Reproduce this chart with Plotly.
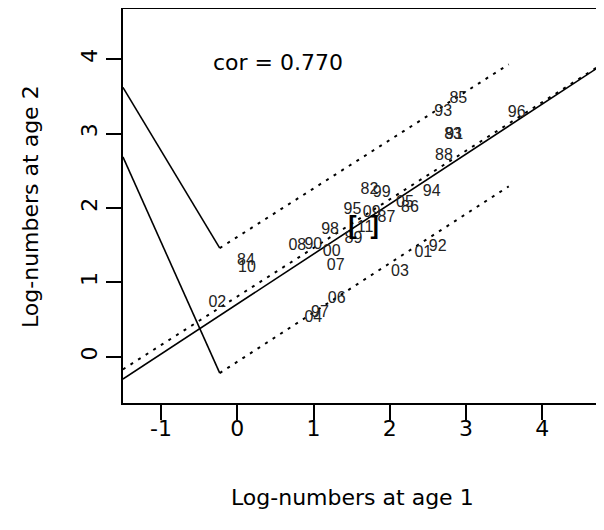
import plotly.graph_objects as go

# ---- data ----
year_labels = ["82", "83", "84", "85", "86", "87", "88", "89", "90", "91",
               "92", "93", "94", "95", "96", "97", "98", "99", "00", "01",
               "02", "03", "04", "05", "06", "07", "08", "09", "10", "11"]
age1 = [1.734, 2.830, 0.114, 2.898, 2.265, 1.956, 2.710, 1.524, 0.997, 2.845,
        2.628, 2.701, 2.549, 1.511, 3.664, 1.084, 1.216, 1.894, 1.238, 2.439,
        -0.262, 2.133, 0.997, 2.199, 1.303, 1.290, 0.787, 1.762, 0.127, 1.675]
age2 = [2.241, 2.985, 1.293, 3.460, 1.995, 1.871, 2.702, 1.578, 1.501, 2.975,
        1.470, 3.293, 2.218, 1.978, 3.272, 0.591, 1.703, 2.196, 1.411, 1.394,
        0.718, 1.142, 0.524, 2.062, 0.772, 1.219, 1.488, 1.931, 1.188, 1.730]

# regression line and prediction lines (end points)
fit_x = [-1.50, 4.81]
fit_y = [-0.30, 3.94]
center_x = [-1.50, 4.81]
center_y = [-0.17, 3.95]
upper_x = [-0.23, 3.56]
upper_y = [1.46, 3.93]
lower_x = [-0.23, 3.56]
lower_y = [-0.22, 2.29]
upper_v_x = [-1.50, -0.23]
upper_v_y = [3.62, 1.46]
lower_v_x = [-1.50, -0.23]
lower_v_y = [2.685, -0.22]

highlight_x = [1.655]
highlight_y = [1.735]

cor_text = "cor = 0.770"
x_ticks = [-1, 0, 1, 2, 3, 4]
y_ticks = [0, 1, 2, 3, 4]
x_title = "Log-numbers at age 1"
y_title = "Log-numbers at age 2"

BIG = "DejaVu Sans, Arial, sans-serif"
SMALL = "Liberation Sans, Arial, sans-serif"

# page offset of the figure (body margin) and plot box in page pixels
OFF = 8
BOX_L, BOX_T, BOX_B, BOX_R = 123, 8, 403, 604
W, H = 604 - OFF, 530 - OFF


def px_x(p):
    return (p - BOX_L) / (BOX_R - BOX_L)


def px_y(p):
    return (BOX_B - p) / (BOX_B - BOX_T)


fig = go.Figure()

line_k = dict(color="black", width=1.6)
dot_k = dict(color="black", width=2, dash="3px,6px")

fig.add_trace(go.Scatter(x=fit_x, y=fit_y, mode="lines", line=line_k, hoverinfo="skip"))
fig.add_trace(go.Scatter(x=center_x, y=center_y, mode="lines", line=dot_k, hoverinfo="skip"))
fig.add_trace(go.Scatter(x=upper_x, y=upper_y, mode="lines", line=dot_k, hoverinfo="skip"))
fig.add_trace(go.Scatter(x=lower_x, y=lower_y, mode="lines", line=dot_k, hoverinfo="skip"))
fig.add_trace(go.Scatter(x=upper_v_x, y=upper_v_y, mode="lines", line=line_k, hoverinfo="skip"))
fig.add_trace(go.Scatter(x=lower_v_x, y=lower_v_y, mode="lines", line=line_k, hoverinfo="skip"))

fig.add_trace(go.Scatter(x=age1, y=age2, mode="text", text=year_labels,
                         textposition="middle center",
                         textfont=dict(family=SMALL, size=16, color="#222222")))
fig.add_trace(go.Scatter(x=highlight_x, y=highlight_y, mode="text", text=["[  ]"],
                         textposition="middle center",
                         textfont=dict(family=SMALL, size=25, color="black", weight="bold")))

fig.add_annotation(x=0.534, y=3.948, xref="x", yref="y", text=cor_text, showarrow=False,
                   font=dict(family=BIG, size=22, color="black"), xanchor="center", yanchor="middle")

fig.add_annotation(x=px_x(352), y=px_y(497), xref="paper", yref="paper",
                   text=x_title, showarrow=False, xanchor="center", yanchor="middle",
                   font=dict(family=BIG, size=22, color="black"))
fig.add_annotation(x=px_x(30), y=px_y(207), xref="paper", yref="paper",
                   text=y_title, showarrow=False, xanchor="center", yanchor="middle", textangle=-90,
                   font=dict(family=BIG, size=22, color="black"))

# top border
fig.add_shape(type="line", xref="paper", yref="paper", x0=0, x1=1, y0=1, y1=1,
              line=dict(color="black", width=2))

fig.update_layout(
    width=W, height=H,
    margin=dict(l=BOX_L - OFF, r=0, t=BOX_T - OFF, b=(H + OFF) - BOX_B, pad=0),
    paper_bgcolor="white", plot_bgcolor="white",
    showlegend=False,
    xaxis=dict(range=[-1.499, 4.809], tickvals=x_ticks, ticktext=[str(v) for v in x_ticks],
               showgrid=False, zeroline=False, showline=True, linecolor="black", linewidth=2,
               ticks="outside", ticklen=15, tickwidth=1.6, tickcolor="black",
               ticklabelstandoff=-10,
               tickfont=dict(family=BIG, size=22, color="black")),
    yaxis=dict(range=[-0.622, 4.687], tickvals=y_ticks, ticktext=[str(v) for v in y_ticks],
               showgrid=False, zeroline=False, showline=True, linecolor="black", linewidth=2,
               ticks="outside", ticklen=15, tickwidth=1.6, tickcolor="black", tickangle=-90,
               tickfont=dict(family=BIG, size=22, color="black")),
)

fig.write_html("out.html")
